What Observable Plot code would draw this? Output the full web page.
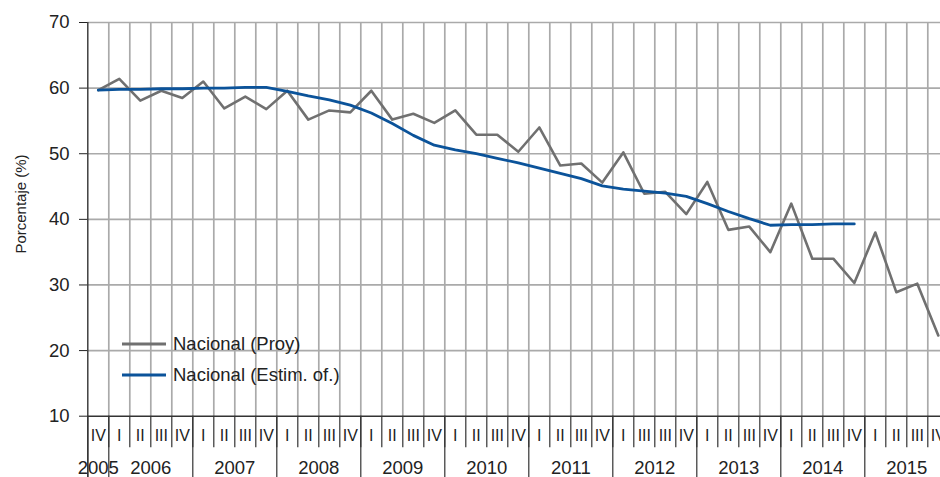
<!DOCTYPE html>
<html>
<head>
<meta charset="utf-8">
<script src="https://cdn.jsdelivr.net/npm/d3@7"></script>
<script src="https://cdn.jsdelivr.net/npm/@observablehq/plot@0.6"></script>
<style>
  body { margin: 0; background: #fff; }
  #wrap { position: relative; width: 940px; height: 477px; overflow: hidden; font-family: "Liberation Sans", Arial, sans-serif; }
  #legend { position: absolute; left: 122px; top: 328px; font-size: 18.5px; color: #222; }
  #legend .row { height: 31px; line-height: 31px; display: flex; align-items: center; white-space: nowrap; }
  #legend svg { margin-right: 7px; }
  #ytitle { position: absolute; left: 20px; top: 204px; width: 0; height: 0; }
  #ytitle span { position: absolute; left: 0; top: 0; transform: translate(-50%, -50%) rotate(-90deg); white-space: nowrap; font-size: 15px; color: #222; }
</style>
</head>
<body>
<div id="wrap"><div id="chart"></div><div id="legend"></div><div id="ytitle"><span></span></div></div>
<script>
// Quarter labels (2005 IV .. 2015 IV) as printed in the original
const quarters = ["IV",
  "I","II","III","IV",  // 2006
  "I","II","III","IV",  // 2007
  "I","II","III","IV",  // 2008
  "I","II","III","IV",  // 2009
  "I","II","III","IV",  // 2010
  "I","II","III","IV",  // 2011
  "I","III","III","IV", // 2012
  "I","II","III","IV",  // 2013
  "I","II","III","IV",  // 2014
  "I","II","III","IV"]; // 2015
const years = ["2005","2006","2007","2008","2009","2010","2011","2012","2013","2014","2015"];
const yTicks = [10, 20, 30, 40, 50, 60, 70];
const yTitle = "Porcentaje (%)";
const seriesNames = ["Nacional (Proy)", "Nacional (Estim. of.)"];
const seriesColors = ["#707070", "#0b539a"];

// Nacional (Proy)
const proy = [59.7, 61.4, 58.1, 59.6, 58.5, 61.0, 56.9, 58.7, 56.8, 59.6,
  55.2, 56.6, 56.3, 59.6, 55.2, 56.1, 54.7, 56.6, 52.9, 52.9,
  50.3, 54.0, 48.2, 48.5, 45.6, 50.2, 43.9, 44.2, 40.8, 45.7,
  38.4, 38.9, 35.0, 42.4, 34.0, 34.0, 30.3, 38.0, 28.9, 30.2, 22.3];
// Nacional (Estim. of.)
const estim = [59.7, 59.8, 59.8, 59.9, 59.9, 60.0, 60.0, 60.1, 60.1, 59.5,
  58.8, 58.2, 57.4, 56.2, 54.6, 52.8, 51.3, 50.6, 50.0, 49.3,
  48.6, 47.8, 47.0, 46.2, 45.1, 44.6, 44.3, 44.0, 43.5, 42.4,
  41.2, 40.1, 39.1, 39.2, 39.2, 39.3, 39.3];

const yearIndex = i => (i === 0 ? 0 : Math.ceil(i / 4));
const data = quarters.map((q, i) => ({i, q, proy: proy[i], estim: estim[i], year: yearIndex(i)}));
const n = quarters.length;
const quarterBounds = d3.range(0, n).map(i => i + 0.5);
const yearBounds = [-0.5].concat(d3.range(0, n - 1).filter(i => yearIndex(i) !== yearIndex(i + 1)).map(i => i + 0.5), [n - 0.5]);
const yearLabels = years.map((y, k) => ({year: y, x: d3.mean(data.filter(d => d.year === k), d => d.i)}));

const Y_AXIS = 10, Y_SEP = 5.2, Y_BOTTOM = 0.5;

const chart = Plot.plot({
  width: 940,
  height: 477,
  marginLeft: 87,
  marginRight: 0,
  marginTop: 22,
  marginBottom: 61,
  x: {domain: [-0.5, n - 0.5], range: [87.3, 948.3], axis: null},
  y: {domain: [10, 70], range: [415.7, 22], ticks: yTicks, tickSize: 8, tickPadding: 10, label: null},
  style: {fontFamily: "'Liberation Sans', Arial, sans-serif", fontSize: "18.5px", color: "#222", background: "white", overflow: "hidden"},
  marks: [
    Plot.ruleY(yTicks.filter(t => t > 10), {x1: -0.5, x2: n - 0.5, stroke: "#aaaaaa", strokeWidth: 1.7}),
    Plot.ruleX(quarterBounds, {y1: 10, y2: 70, stroke: "#aaaaaa", strokeWidth: 1.7}),
    Plot.ruleX(quarterBounds, {y1: Y_AXIS, y2: Y_SEP, stroke: "#333", strokeWidth: 1.2}),
    Plot.ruleX(yearBounds, {y1: Y_AXIS, y2: Y_BOTTOM, stroke: "#333", strokeWidth: 1.2}),
    Plot.ruleX([-0.5], {y1: Y_BOTTOM, y2: 70, stroke: "#333", strokeWidth: 1.4}),
    Plot.ruleY([10], {x1: -0.5, x2: n - 0.5, stroke: "#333", strokeWidth: 1.6}),
    Plot.line(data, {x: "i", y: "proy", stroke: seriesColors[0], strokeWidth: 2.6}),
    Plot.line(data.filter(d => d.estim != null), {x: "i", y: "estim", stroke: seriesColors[1], strokeWidth: 2.8}),
    Plot.text(data, {x: "i", y: Y_AXIS, dy: 19.5, text: "q", fontSize: 16, fill: "#222"}),
    Plot.text(yearLabels, {x: "x", y: Y_AXIS, dy: 51.5, text: "year", fontSize: 18.5, fill: "#222"})
  ]
});
document.getElementById("chart").appendChild(chart);

document.querySelector("#ytitle span").textContent = yTitle;
const legend = document.getElementById("legend");
seriesNames.forEach((name, k) => {
  const row = document.createElement("div");
  row.className = "row";
  row.innerHTML = `<svg width="44" height="6"><line x1="0" x2="44" y1="3" y2="3" stroke="${seriesColors[k]}" stroke-width="3"/></svg><span>${name}</span>`;
  legend.appendChild(row);
});
</script>
</body>
</html>
